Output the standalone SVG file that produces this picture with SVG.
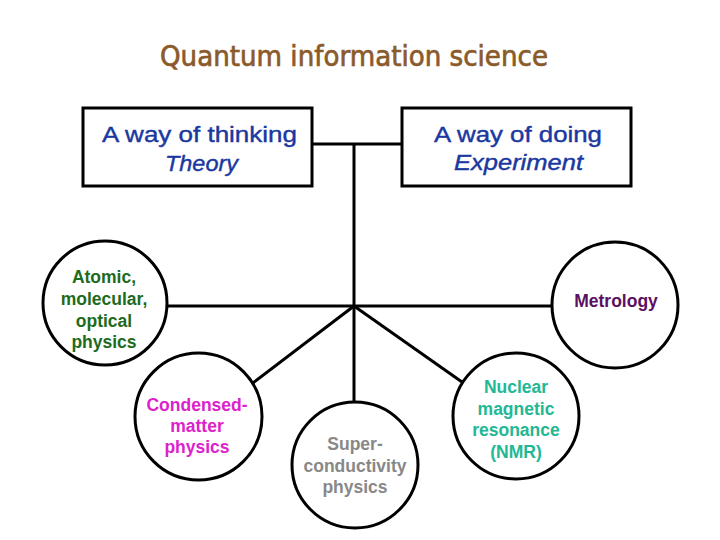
<svg xmlns="http://www.w3.org/2000/svg" width="720" height="540" viewBox="0 0 720 540">
<style>
.shape{fill:#fff;stroke:#000;stroke-width:3}
.line{stroke:#000;stroke-width:3;fill:none}
.title{font-family:"Comic Sans MS","DejaVu Sans",sans-serif;font-size:28px;fill:#8b5a2b;stroke:#8b5a2b;stroke-width:0.7;text-anchor:middle}
.box{font-family:"Liberation Sans",Arial,sans-serif;font-size:22px;fill:#1a38a0;stroke:#1a38a0;stroke-width:0.4;text-anchor:middle}
.it{font-style:italic}
.c{font-family:"Liberation Sans",Arial,sans-serif;font-size:17.5px;font-weight:bold;text-anchor:middle}
</style>
<rect width="720" height="540" fill="#fff"/>
<text class="title" x="354" y="66" textLength="388" lengthAdjust="spacingAndGlyphs">Quantum information science</text>
<g id="connectors">
<line class="line" x1="312" y1="144" x2="402" y2="144"/>
<line class="line" x1="354" y1="144" x2="354" y2="402"/>
<line class="line" x1="167" y1="306" x2="552" y2="306"/>
<line class="line" x1="354" y1="306" x2="253" y2="383"/>
<line class="line" x1="354" y1="306" x2="462" y2="382"/>
</g>
<g id="theory">
<rect class="shape" x="83" y="108" width="229" height="78"/>
<text class="box" x="199.5" y="142" textLength="195" lengthAdjust="spacingAndGlyphs">A way of thinking</text>
<text class="box it" x="201.5" y="171" textLength="73" lengthAdjust="spacingAndGlyphs">Theory</text>
</g>
<g id="experiment">
<rect class="shape" x="402" y="108" width="229" height="78"/>
<text class="box" x="518" y="142" textLength="168" lengthAdjust="spacingAndGlyphs">A way of doing</text>
<text class="box it" x="518.5" y="170" textLength="129" lengthAdjust="spacingAndGlyphs">Experiment</text>
</g>
<g id="amo">
<circle class="shape" cx="105" cy="303" r="62"/>
<text class="c" fill="#1d6b1d"><tspan x="104" y="283">Atomic,</tspan><tspan x="104" y="305">molecular,</tspan><tspan x="104" y="327">optical</tspan><tspan x="104" y="348">physics</tspan></text>
</g>
<g id="metrology">
<circle class="shape" cx="615" cy="305" r="63"/>
<text class="c" fill="#5a1060" x="616" y="307">Metrology</text>
</g>
<g id="condensed">
<circle class="shape" cx="198.5" cy="416.5" r="63.5"/>
<text class="c" fill="#dd22cc"><tspan x="197" y="411">Condensed-</tspan><tspan x="197" y="432">matter</tspan><tspan x="197" y="453">physics</tspan></text>
</g>
<g id="superconductivity">
<circle class="shape" cx="355" cy="465" r="63"/>
<text class="c" fill="#888888"><tspan x="355" y="450">Super-</tspan><tspan x="355" y="472">conductivity</tspan><tspan x="355" y="493">physics</tspan></text>
</g>
<g id="nmr">
<circle class="shape" cx="516" cy="416" r="63"/>
<text class="c" fill="#22b894"><tspan x="516" y="393">Nuclear</tspan><tspan x="516" y="414.5">magnetic</tspan><tspan x="516" y="436">resonance</tspan><tspan x="516" y="457.5">(NMR)</tspan></text>
</g>
</svg>
